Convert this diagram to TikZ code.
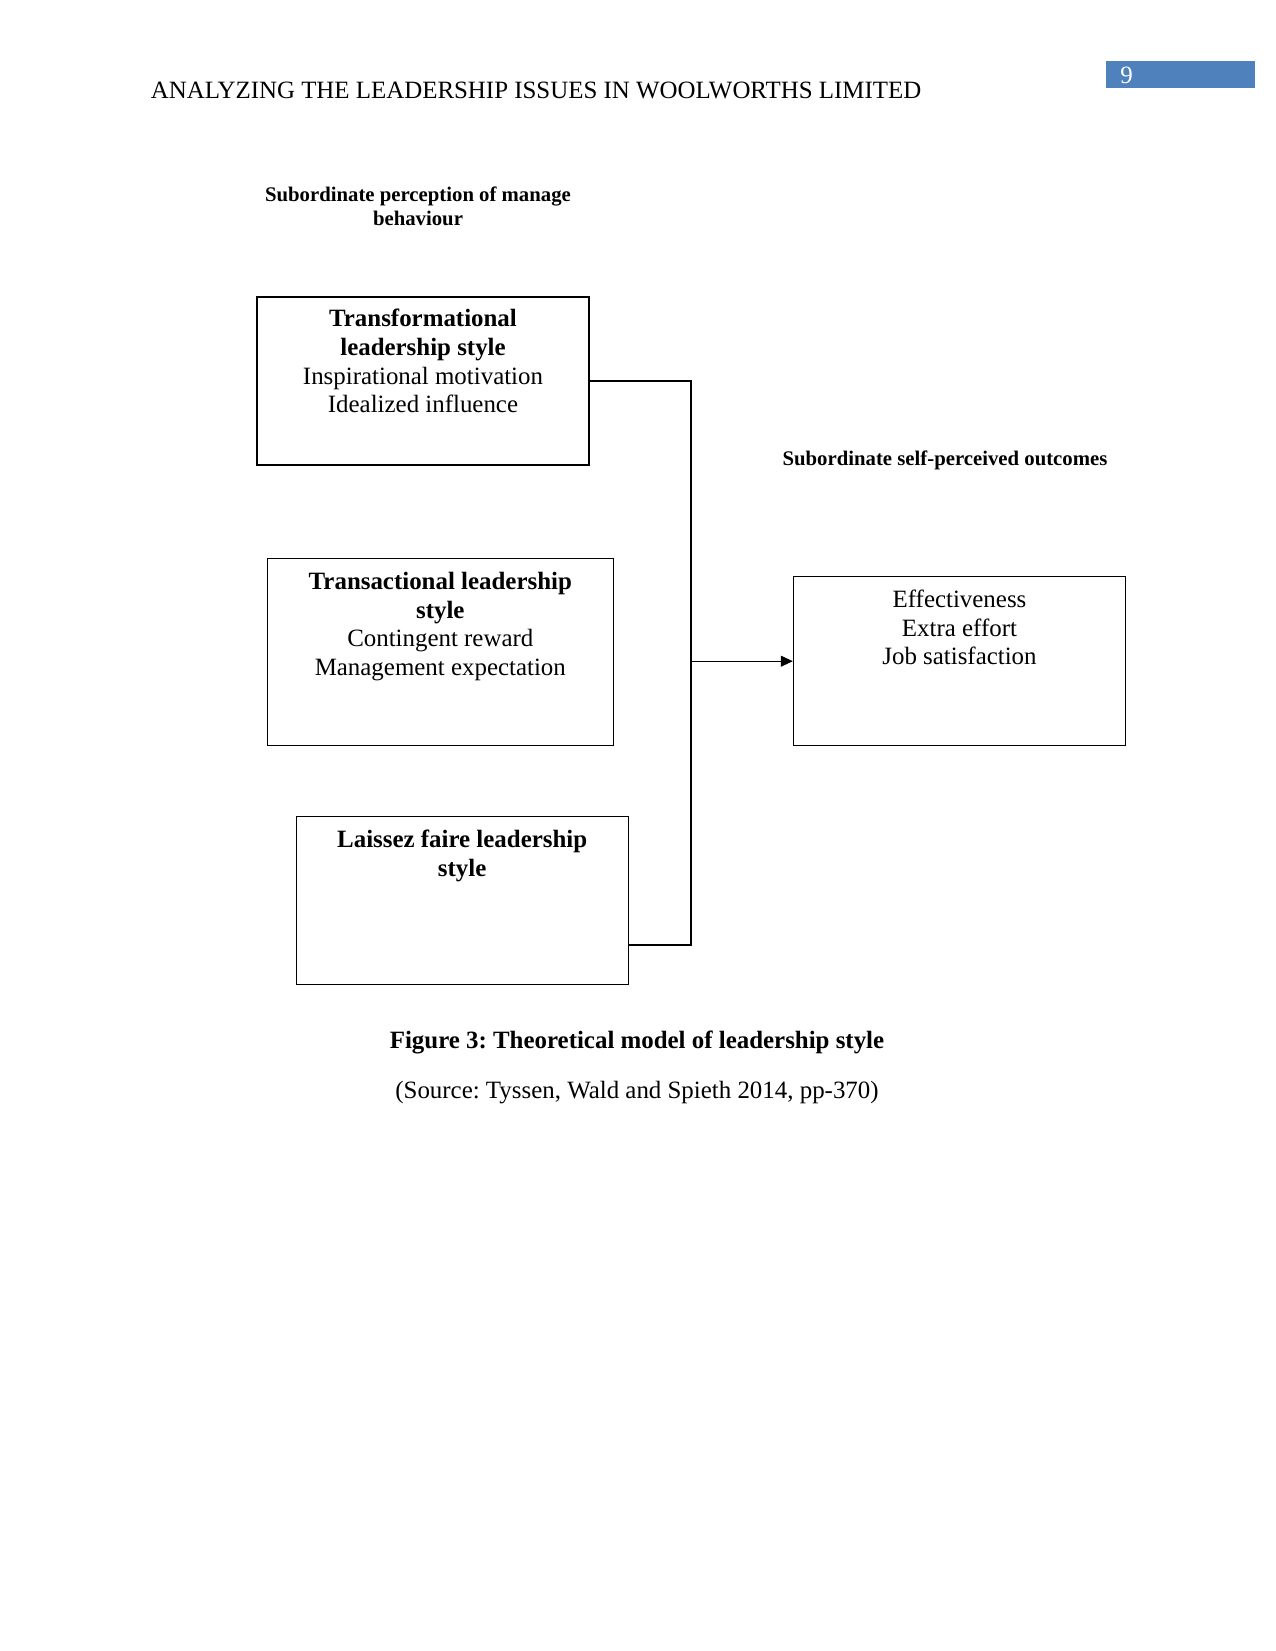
\documentclass[tikz,border=0pt]{standalone}
\usepackage{fontspec}
\setmainfont{Liberation Serif}
\usetikzlibrary{arrows.meta}
\definecolor{pagebar}{RGB}{79,129,189}
\newcommand{\px}{0.48bp}
\frenchspacing
\tikzset{
  stylebox/.style={draw, line width=0.5pt, inner sep=0pt},
  boxtext/.style={anchor=north, align=center, inner sep=0pt, font=\fontsize{12}{13.8}\selectfont},
  smalltitle/.style={align=center, inner sep=0pt, font=\fontsize{10}{11.6}\selectfont\bfseries},
  link/.style={line width=0.5pt}
}
\begin{document}
\begin{tikzpicture}[x=0.48bp, y=-0.48bp]
    \useasboundingbox (0,0) rectangle (1275,1651);
    % Page header
    \fill[pagebar] (1105.5,61) rectangle (1255,88.4);
    \node[anchor=base, text=white, inner sep=0pt, font=\fontsize{12}{14}\selectfont] (pagenum) at (1126.5,83) {9};
    \node[anchor=base west, inner sep=0pt, font=\fontsize{12}{14}\selectfont] (header) at (150.5,98.7) {ANALYZING THE LEADERSHIP ISSUES IN WOOLWORTHS LIMITED};

    % Group titles
    \node[smalltitle, anchor=north] (perception) at (418,186) {Subordinate perception of manage\\behaviour};
    \node[smalltitle, anchor=base] (outcomes) at (945,465) {Subordinate self-perceived outcomes};

    % Leadership styles
    \node[stylebox, minimum width=332*\px, minimum height=168*\px] (trf) at (423,381) {};
    \node[boxtext] (trftext) at (423,309) {\textbf{Transformational}\\\textbf{leadership style}\\Inspirational motivation\\Idealized influence};

    \node[stylebox, minimum width=346*\px, minimum height=186.7*\px] (trs) at (440.3,651.7) {};
    \node[boxtext] (trstext) at (440.3,572) {\textbf{Transactional leadership}\\\textbf{style}\\Contingent reward\\Management expectation};

    \node[stylebox, minimum width=332.3*\px, minimum height=168.3*\px] (lf) at (462.2,900.8) {};
    \node[boxtext] (lftext) at (462.2,830) {\textbf{Laissez faire leadership}\\\textbf{style}};

    % Outcomes
    \node[stylebox, minimum width=332.4*\px, minimum height=169*\px] (out) at (959.5,661.2) {};
    \node[boxtext] (outtext) at (959.5,589.5) {Effectiveness\\Extra effort\\Job satisfaction};

    % Connectors
    \coordinate (bus) at (691,661.2);
    \coordinate (lfout) at (628.3,945);
    \draw[link] (trf.east) -| (bus) |- (lfout);
    \draw[link, -{Triangle[length=12*\px, width=11*\px]}] (bus) -- (out.west);

    % Caption
    \node[anchor=base, inner sep=0pt, font=\fontsize{12}{14}\selectfont\bfseries] (caption) at (637,1048.5) {Figure 3: Theoretical model of leadership style};
    \node[anchor=base, inner sep=0pt, font=\fontsize{12}{14}\selectfont] (source) at (637,1098) {(Source: Tyssen, Wald and Spieth 2014, pp-370)};
\end{tikzpicture}
\end{document}
